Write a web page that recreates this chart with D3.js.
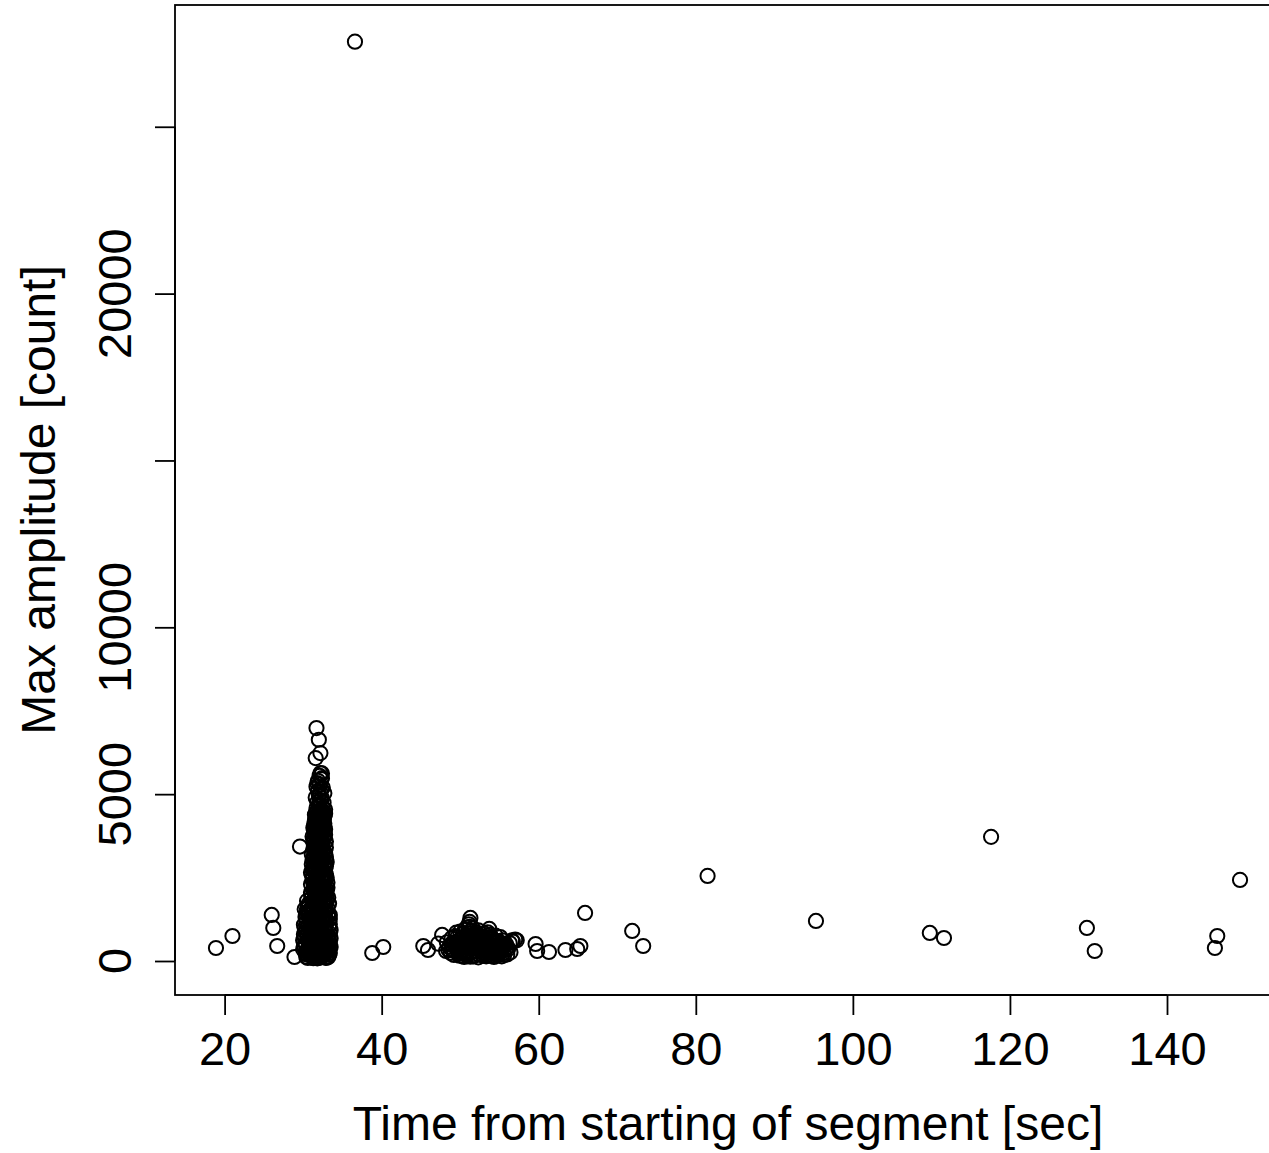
<!DOCTYPE html>
<html>
<head>
<meta charset="utf-8">
<script src="https://cdn.jsdelivr.net/npm/d3@7"></script>
<style>
  html, body { margin: 0; padding: 0; background: #fff; }
  svg { display: block; font-family: "Liberation Sans", Arial, Helvetica, sans-serif; }
</style>
</head>
<body>
<svg id="chart" width="1269" height="1153"></svg>
<script>
// Events as [time from segment start (s), max amplitude (count)]

// Main burst around 30-34 s
const burstMain = [
  [30.4,120],[31.2,260],[32.0,90],[32.8,310],[33.3,180],[30.9,540],[31.7,420],[32.5,610],[33.1,470],[30.2,700],
  [31.0,880],[31.9,760],[32.7,950],[33.4,820],[30.6,1040],[31.4,1150],[32.2,1010],[33.0,1230],[30.3,1320],[31.1,1460],
  [31.8,1380],[32.6,1550],[33.2,1420],[30.7,1640],[31.5,1720],[32.3,1600],[33.0,1780],[30.5,330],[31.3,85],[32.1,380],
  [32.9,95],[33.5,420],[30.8,190],[31.6,150],[32.4,230],[33.2,640],[30.1,450],[30.9,950],[31.7,1070],[32.5,1190],
  [33.3,1010],[30.4,1180],[31.2,680],[32.0,560],[32.8,720],[31.5,300],[32.3,130],[33.0,100],[30.7,880],[31.9,1290],
  [32.7,1340],[33.4,1260],[30.2,990],[31.0,1560],[31.8,1690],[32.6,1770],[33.1,1580],[30.6,1480],[31.4,1850],[32.2,1840],
  [30.0,620],[30.3,860],[33.5,930],[33.4,560],[30.1,1090],[31.6,520],[32.4,490],[31.1,380],[32.9,400],[30.5,760],
  [31.3,830],[32.1,870],[32.9,1090],[31.7,930],[32.5,820],[31.0,220],[32.6,170],[31.8,80],[32.3,1450],[31.4,1520],
  [30.8,1290],[33.2,1360],[32.0,1120],[31.2,1050],[32.7,1000],[30.9,410],[33.3,250],[32.2,640],[31.5,690],[30.3,240],
  [31.9,210],[33.0,540],[32.4,920],[31.6,1220],[30.7,1710],[32.8,1650],[33.3,1720],[31.3,1610],[32.0,1500],[30.6,90],
  [30.5,1560],[31.0,1230],[31.5,980],[32.0,750],[32.5,330],[33.0,850],[30.3,520],[30.8,660],[31.3,480],[31.8,560],
  [32.3,710],[32.8,540],[33.3,410],[30.6,280],[31.1,150],[31.6,380],[32.1,240],[32.6,470],[33.1,290],[30.4,950],
  [30.9,1110],[31.4,1310],[31.9,1450],[32.4,1330],[32.9,1520],[33.4,1100],[30.2,1550],[30.7,1380],[31.2,1790],[31.7,1560],
  [32.2,1710],[32.7,1880],[33.2,1900],[30.5,1800],[31.0,1980],[31.5,2030],[32.0,1940],[32.5,2150],[33.0,2120],[31.3,2340],
  [31.1,1900],[31.6,1960],[32.1,1880],[32.6,2010],[33.0,1920],[31.3,2110],[31.8,2180],[32.3,2090],[32.8,2230],[31.0,2300],
  [31.5,2370],[32.0,2290],[32.5,2420],[33.1,2350],[31.2,2510],[31.7,2580],[32.2,2480],[32.7,2640],[31.4,2720],[31.9,2790],
  [32.4,2690],[32.9,2840],[31.1,2900],[31.6,2980],[32.1,2910],[32.6,3050],[33.0,2970],[31.3,3120],[31.8,3190],[32.3,3090],
  [32.8,3240],[31.5,3280],[32.0,3230],[32.5,3300],[31.0,2050],[32.9,2060],[31.4,2240],[31.9,2000],[32.4,2260],[31.2,2430],
  [32.0,2620],[32.6,2550],[33.0,2500],[31.6,2460],[31.3,2850],[32.2,2780],[32.7,2920],[31.8,3010],[32.4,3160],[31.1,3200],
  [32.9,3120],[31.7,2310],[32.2,2150],[31.5,2700],[32.8,2760],[31.0,2650],[33.1,2200],[32.5,1990],[31.9,2400],[32.3,2860],
  [31.4,3040],[32.0,2070],[32.7,2380],[31.6,2830],[32.1,3020],[31.2,2760],[32.9,2600],[31.8,2550],[32.5,2720],[31.5,2130],
  [31.8,2420],[32.3,2560],[32.8,2480],[31.1,2600],[31.6,2680],[32.1,2730],[32.6,2850],[31.4,2950],[31.9,3080],[32.4,2970],
  [32.9,3000],[31.2,3030],[31.7,3280],[32.2,3290],[32.7,3180],
  [31.3,3350],[31.7,3420],[32.1,3380],[32.5,3460],[32.9,3400],[31.4,3560],[31.8,3620],[32.2,3540],[32.6,3670],[31.2,3730],
  [31.6,3790],[32.0,3710],[32.4,3850],[32.8,3780],[31.5,3920],[31.9,3980],[32.3,3900],[32.7,4040],[31.4,4100],[31.8,4170],
  [32.2,4080],[32.6,4230],[31.6,4290],[32.0,4360],[32.4,4270],[32.8,4410],[31.7,4470],[32.1,4450],[32.5,4500],[31.3,3640],
  [32.9,3580],[31.5,3500],[32.3,3730],[31.9,3830],[32.7,3880],[31.3,3990],[32.1,4010],[32.5,4120],[31.7,4020],[32.0,4200],
  [31.5,4380],[32.3,4390],[31.9,3480],[32.8,3950],[31.4,3860],[32.4,3600],[32.2,4300],[31.8,4300],[32.6,3320],[31.6,3350],
  [31.5,3410],[32.0,3530],[32.5,3560],[31.4,3690],[31.9,3670],[32.3,3800],[32.7,3690],[31.6,3890],[32.0,3830],[32.5,3960],
  [31.5,4020],[32.2,3990],[32.7,4120],[31.6,4150],[32.0,4090],[32.4,4180],[31.9,4420],[32.3,4510],[32.7,4330],[31.5,4200],
  [30.1,800],[30.0,350],[33.5,680],[33.4,1380],[30.4,1410],[31.9,630],[32.4,1060],[31.3,1000],[32.7,1240],[30.9,770],
  [31.5,1130],[32.1,1350],[33.1,750],[30.8,1520],[32.8,1420],[31.0,320],[31.7,270],[32.2,420],[32.7,220],[33.2,120],
  [30.6,620],[31.2,540],[33.4,240],[30.2,410],[30.5,190],
  [31.7,4580],[32.1,4640],[32.5,4600],[31.8,4760],[32.2,4820],[32.6,4740],[31.6,4900],[32.0,4960],[32.4,4880],[32.7,5030],
  [31.9,5100],[32.3,5160],[31.7,5220],[32.1,5280],[32.5,5200],[31.9,5400],[32.3,5450],[32.1,5550],[32.4,5620],[31.6,4420],
  [32.8,4540],[32.0,4700],[32.2,5050],[31.8,5330],[32.6,4450],
  [31.7,6980],[32.0,6630],[31.6,6080],[32.2,6230],[32.2,5630],[32.4,5480],
  [29.6,3430],[28.9,120],[26.0,1380],[26.2,990],[26.7,450]
];

// Secondary burst around 48-57 s
const burstSecond = [
  [48.6,420],[49.1,310],[49.6,560],[50.1,250],[50.6,480],[51.1,380],[51.6,620],[52.1,290],[52.6,510],[53.1,340],
  [53.6,450],[54.1,230],[54.6,390],[55.1,300],[55.6,470],[56.1,360],[48.9,680],[49.4,750],[49.9,620],[50.4,820],
  [50.9,700],[51.4,900],[51.9,770],[52.4,660],[52.9,720],[53.4,590],[53.9,640],[54.4,530],[54.9,580],[55.4,620],
  [49.2,180],[49.8,220],[50.3,150],[50.8,200],[51.3,130],[51.8,170],[52.3,110],[52.8,190],[53.3,140],[53.8,160],
  [54.3,120],[54.8,170],[55.3,140],[49.0,470],[49.5,400],[50.0,380],[50.5,340],[51.0,520],[51.5,450],[52.0,410],
  [52.5,380],[53.0,470],[53.5,270],[54.0,350],[54.5,440],[55.0,410],[55.5,250],[50.2,560],[50.7,610],[51.2,710],
  [51.7,540],[52.2,580],[52.7,420],[53.2,500],[53.7,370],[54.2,480],[54.7,260],[50.0,880],[51.0,830],[51.6,980],
  [52.0,860],[52.6,810],[53.5,860],[51.2,1020],[50.6,940],[49.3,560],[49.7,300],[48.8,240],[56.3,540],[56.6,620],
  [56.0,200],[55.8,350],[54.0,700],[52.9,240],[51.5,270],[50.4,420],[53.8,780],[55.1,720],[49.5,850],[48.3,560],
  [49.0,340],[49.4,480],[49.8,400],[50.2,330],[50.6,260],[51.0,300],[51.4,360],[51.8,420],[52.2,470],[52.6,300],
  [53.0,380],[53.4,420],[53.8,280],[54.2,360],[54.6,310],[55.0,260],[55.4,380],[55.8,520],[49.6,700],[50.0,640],
  [50.4,700],[50.8,780],[51.2,600],[51.6,760],[52.0,680],[52.4,760],[52.8,600],[53.2,650],[53.6,720],[54.0,560],
  [54.4,620],[54.8,480],[55.2,530],[49.9,160],[50.5,120],[51.1,200],[51.7,140],[52.3,200],[52.9,160],[53.5,190],
  [54.1,170],[54.7,210],[55.6,180],[48.5,340],[48.9,520],[56.0,420],[53.1,820],[52.3,920],[50.8,1000],[54.5,760],
  [51.3,1290],[51.2,1170],[51.1,1100],[47.7,780],[53.7,960],[57.0,640],[56.7,580],[56.4,260],[48.2,300],[47.2,520],
  [57.2,620]
];

// Isolated events
const isolated = [
  [36.6,27550],[18.9,390],[21.0,750],[38.8,240],[40.2,420],[45.3,450],[45.9,330],
  [59.6,510],[59.8,300],[61.3,270],[63.4,330],[64.9,360],[65.3,450],[65.9,1440],
  [71.9,900],[73.3,450],[81.5,2550],[95.3,1200],[109.8,840],[111.6,690],[117.6,3720],
  [129.8,990],[130.8,300],[146.1,390],[146.4,750],[149.3,2430]
];

const xTicks = [20, 40, 60, 80, 100, 120, 140];
const yTicks = [0, 5000, 10000, 15000, 20000, 25000];
const yTickLabels = ["0", "5000", "10000", "", "20000", ""];
const xTitle = "Time from starting of segment [sec]";
const yTitle = "Max amplitude [count]";

const events = burstMain.concat(burstSecond, isolated);

const svg = d3.select("#chart");
const plot = { left: 175, right: 1281, top: 5, bottom: 995 };

// Axis limits padded by 4% on each side of the data range
function padded(ext) {
  const p = (ext[1] - ext[0]) * 0.04;
  return [ext[0] - p, ext[1] + p];
}
const x = d3.scaleLinear()
  .domain(padded(d3.extent(events, d => d[0])))
  .range([plot.left, plot.right]);
const y = d3.scaleLinear()
  .domain(padded(d3.extent(events, d => d[1])))
  .range([plot.bottom, plot.top]);

const ink = "#000";
const lw = 1.8;

// Open circle markers
svg.append("g")
  .selectAll("circle")
  .data(events)
  .join("circle")
  .attr("cx", d => x(d[0]))
  .attr("cy", d => y(d[1]))
  .attr("r", 7.1)
  .attr("fill", "none")
  .attr("stroke", ink)
  .attr("stroke-width", 2);

// Plot frame
svg.append("rect")
  .attr("x", plot.left)
  .attr("y", plot.top)
  .attr("width", plot.right - plot.left)
  .attr("height", plot.bottom - plot.top)
  .attr("fill", "none")
  .attr("stroke", ink)
  .attr("stroke-width", lw);

// X axis
const gx = svg.append("g")
  .attr("transform", `translate(0,${plot.bottom})`)
  .call(d3.axisBottom(x).tickValues(xTicks).tickSize(20).tickSizeOuter(0).tickPadding(17)
    .tickFormat(d3.format("d")));
gx.select(".domain").remove();
gx.append("line")
  .attr("x1", x(xTicks[0])).attr("x2", x(xTicks[xTicks.length - 1]))
  .attr("stroke", ink).attr("stroke-width", lw);
gx.selectAll(".tick line").attr("stroke", ink).attr("stroke-width", lw);
gx.selectAll(".tick text")
  .attr("fill", ink)
  .style("font-size", "47px")
  .style("font-family", "'Liberation Sans', Arial, Helvetica, sans-serif");

// Y axis with rotated labels
const gy = svg.append("g")
  .attr("transform", `translate(${plot.left},0)`)
  .call(d3.axisLeft(y).tickValues(yTicks).tickSize(20).tickSizeOuter(0).tickFormat(""));
gy.select(".domain").remove();
gy.append("line")
  .attr("y1", y(yTicks[0])).attr("y2", y(yTicks[yTicks.length - 1]))
  .attr("stroke", ink).attr("stroke-width", lw);
gy.selectAll(".tick line").attr("stroke", ink).attr("stroke-width", lw);

svg.append("g")
  .selectAll("text")
  .data(yTicks.map((v, i) => ({ v, label: yTickLabels[i] })).filter(d => d.label))
  .join("text")
  .attr("transform", d => `translate(131,${y(d.v)}) rotate(-90)`)
  .attr("text-anchor", "middle")
  .attr("fill", ink)
  .style("font-size", "47px")
  .text(d => d.label);

// Axis titles
svg.append("text")
  .attr("x", (plot.left + plot.right) / 2)
  .attr("y", 1140)
  .attr("text-anchor", "middle")
  .attr("fill", ink)
  .style("font-size", "48px")
  .text(xTitle);

svg.append("text")
  .attr("transform", `translate(55,${(plot.top + plot.bottom) / 2}) rotate(-90)`)
  .attr("text-anchor", "middle")
  .attr("fill", ink)
  .style("font-size", "48px")
  .text(yTitle);
</script>
</body>
</html>
